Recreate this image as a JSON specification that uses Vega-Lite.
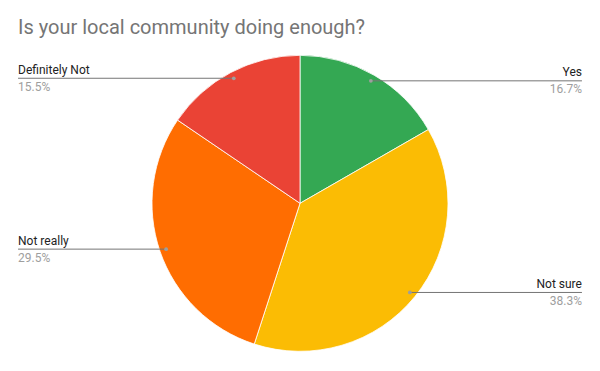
{
  "$schema": "https://vega.github.io/schema/vega-lite/v6.json",
  "width": 600,
  "height": 321,
  "autosize": {"type": "none"},
  "padding": {"top": 50, "left": 0, "right": 0, "bottom": 0},
  "background": "white",
  "title": {
    "text": "Is your local community doing enough?",
    "anchor": "start",
    "orient": "top",
    "font": "Roboto",
    "fontSize": 20,
    "fontWeight": "normal",
    "color": "#757575",
    "baseline": "alphabetic",
    "dx": 18,
    "dy": 16,
    "offset": 12
  },
  "config": {"view": {"stroke": null}},
  "data": {
    "values": [
      {"label": "Yes", "value": 16.7},
      {"label": "Not sure", "value": 38.3},
      {"label": "Not really", "value": 29.5},
      {"label": "Definitely Not", "value": 15.5}
    ]
  },
  "transform": [
    {"window": [{"op": "row_number", "as": "idx"}]},
    {"window": [{"op": "sum", "field": "value", "as": "cum"}], "sort": [{"field": "idx"}], "frame": [null, 0]},
    {"joinaggregate": [{"op": "sum", "field": "value", "as": "total"}]},
    {"calculate": "2 * PI * (datum.cum - datum.value / 2) / datum.total", "as": "mid"},
    {"calculate": "0.956 * sin(datum.mid)", "as": "dotx"},
    {"calculate": "0.956 * cos(datum.mid)", "as": "doty"},
    {"calculate": "sin(datum.mid) >= 0 ? 'right' : 'left'", "as": "side"},
    {"calculate": "datum.side == 'right' ? 1.905 : -1.905", "as": "edge"},
    {"calculate": "format(datum.value, '.1f') + '%'", "as": "pct"}
  ],
  "layer": [
    {
      "mark": {"type": "arc", "outerRadius": 148, "stroke": "white", "strokeWidth": 0.8},
      "encoding": {
        "theta": {"field": "value", "type": "quantitative", "stack": true},
        "order": {"field": "idx", "type": "quantitative"},
        "color": {
          "field": "label",
          "type": "nominal",
          "scale": {"domain": ["Yes", "Not sure", "Not really", "Definitely Not"], "range": ["#34A853", "#FBBC04", "#FF6D01", "#EA4335"]},
          "legend": null
        },
        "x": {"datum": 0, "type": "quantitative", "scale": {"domain": [-2.027, 2.027], "nice": false, "zero": false}, "axis": null},
        "y": {"datum": 0, "type": "quantitative", "scale": {"domain": [-1.1331, 1.0358], "nice": false, "zero": false}, "axis": null}
      }
    },
    {
      "mark": {"type": "rule", "color": "#757575", "strokeWidth": 1},
      "encoding": {
        "x": {"field": "dotx", "type": "quantitative"},
        "x2": {"field": "edge"},
        "y": {"field": "doty", "type": "quantitative"}
      }
    },
    {
      "mark": {"type": "point", "filled": true, "size": 14, "color": "#9E9E9E", "opacity": 1},
      "encoding": {
        "x": {"field": "dotx", "type": "quantitative"},
        "y": {"field": "doty", "type": "quantitative"}
      }
    },
    {
      "transform": [{"filter": "datum.side == 'right'"}],
      "mark": {"type": "text", "align": "right", "baseline": "alphabetic", "dy": -4.5, "font": "Roboto", "fontSize": 12, "color": "#222222"},
      "encoding": {
        "x": {"field": "edge", "type": "quantitative"},
        "y": {"field": "doty", "type": "quantitative"},
        "text": {"field": "label"}
      }
    },
    {
      "transform": [{"filter": "datum.side == 'right'"}],
      "mark": {"type": "text", "align": "right", "baseline": "alphabetic", "dy": 12.5, "font": "Roboto", "fontSize": 12, "color": "#9E9E9E"},
      "encoding": {
        "x": {"field": "edge", "type": "quantitative"},
        "y": {"field": "doty", "type": "quantitative"},
        "text": {"field": "pct"}
      }
    },
    {
      "transform": [{"filter": "datum.side == 'left'"}],
      "mark": {"type": "text", "align": "left", "baseline": "alphabetic", "dy": -4.5, "font": "Roboto", "fontSize": 12, "color": "#222222"},
      "encoding": {
        "x": {"field": "edge", "type": "quantitative"},
        "y": {"field": "doty", "type": "quantitative"},
        "text": {"field": "label"}
      }
    },
    {
      "transform": [{"filter": "datum.side == 'left'"}],
      "mark": {"type": "text", "align": "left", "baseline": "alphabetic", "dy": 12.5, "font": "Roboto", "fontSize": 12, "color": "#9E9E9E"},
      "encoding": {
        "x": {"field": "edge", "type": "quantitative"},
        "y": {"field": "doty", "type": "quantitative"},
        "text": {"field": "pct"}
      }
    }
  ]
}
